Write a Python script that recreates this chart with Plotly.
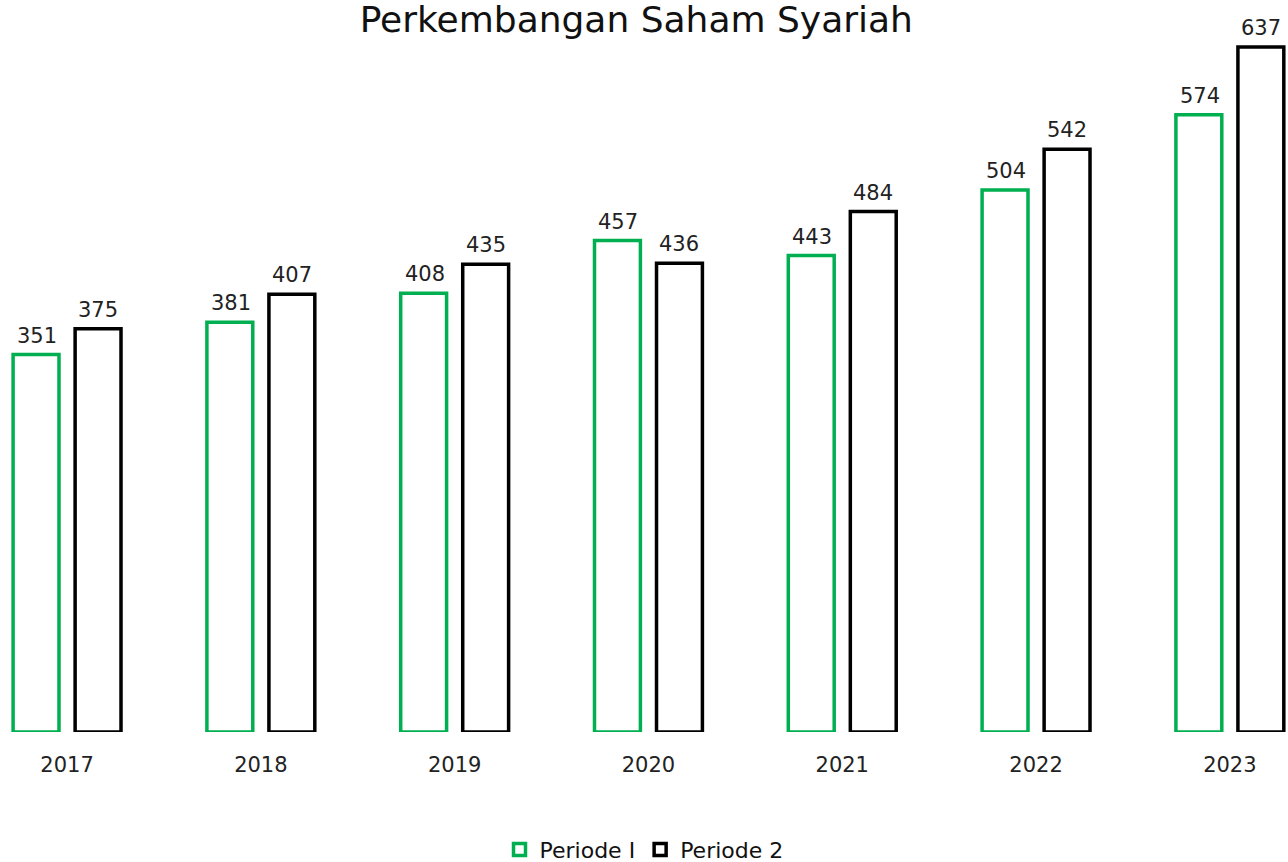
import plotly.graph_objects as go

years = ["2017", "2018", "2019", "2020", "2021", "2022", "2023"]
periode_1 = [351, 381, 408, 457, 443, 504, 574]
periode_2 = [375, 407, 435, 436, 484, 542, 637]

FONT = "DejaVu Sans"

fig = go.Figure()
fig.add_trace(go.Bar(
    name="Periode I", x=years, y=periode_1,
    marker=dict(color="white", line=dict(color="#00B050", width=3.5)),
    cliponaxis=False,
))
fig.add_trace(go.Bar(
    name="Periode 2", x=years, y=periode_2,
    marker=dict(color="white", line=dict(color="#000000", width=3.5)),
    cliponaxis=False,
))

annotations = []
for series, shift in ((periode_1, -30), (periode_2, 31)):
    for i, v in enumerate(series):
        annotations.append(dict(
            x=i, y=v, xref="x", yref="y", text=str(v), showarrow=False,
            xanchor="center", yanchor="bottom", xshift=shift, yshift=5,
            font=dict(size=21, family=FONT, color="#222222"),
        ))

fig.update_layout(
    width=1288, height=862,
    paper_bgcolor="white", plot_bgcolor="white",
    margin=dict(l=0, r=0, t=40, b=130, autoexpand=False),
    barmode="group", bargap=0.36, bargroupgap=0.26,
    title=dict(text="Perkembangan Saham Syariah", x=0.494, xanchor="center",
               y=0.978, yanchor="middle",
               font=dict(family=FONT, size=36, color="#111111")),
    font=dict(family=FONT, color="#222222"),
    showlegend=True,
    legend=dict(orientation="h", x=0.5, xanchor="center", y=-0.17, yanchor="middle",
                font=dict(size=22, family=FONT, color="#111111"),
                itemwidth=30, tracegroupgap=0),
    annotations=annotations,
)
fig.update_xaxes(type="category", range=[-0.346, 6.30], showgrid=False, showline=False,
                 zeroline=False, automargin=False,
                 tickfont=dict(size=21, family=FONT, color="#222222"),
                 ticklabelstandoff=18)
fig.update_yaxes(range=[0, 643.5], visible=False, showgrid=False, zeroline=False,
                 automargin=False)

fig.write_html("out.html")
